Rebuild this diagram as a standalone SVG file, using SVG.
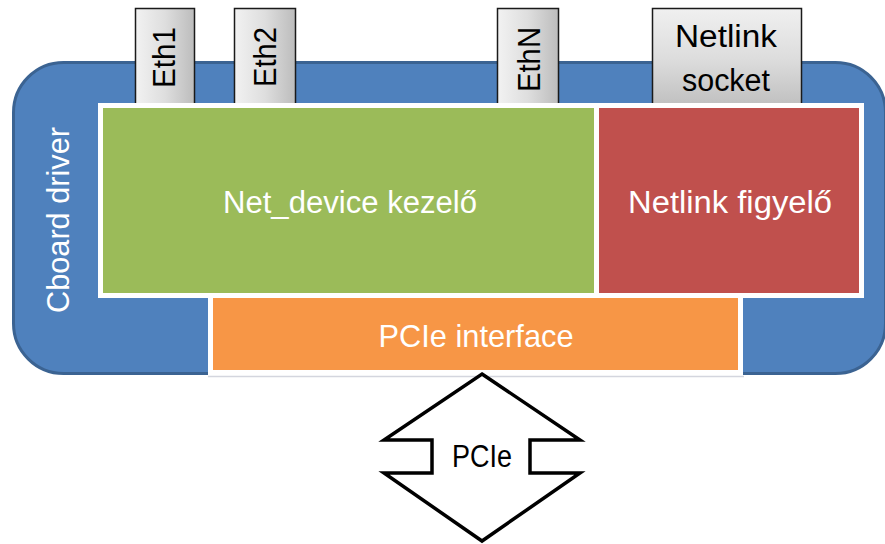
<svg xmlns="http://www.w3.org/2000/svg" width="885" height="544" viewBox="0 0 885 544">
  <defs>
    <linearGradient id="gTabH" x1="0" y1="0" x2="1" y2="0">
      <stop offset="0" stop-color="#f2f2f2"/>
      <stop offset="0.5" stop-color="#dedede"/>
      <stop offset="1" stop-color="#bcbcbc"/>
    </linearGradient>
    <linearGradient id="gTabV" x1="0" y1="0" x2="0" y2="1">
      <stop offset="0" stop-color="#f0f0f0"/>
      <stop offset="0.5" stop-color="#dddddd"/>
      <stop offset="1" stop-color="#bebebe"/>
    </linearGradient>
    <style>
      .tab { stroke:#1a1a1a; stroke-width:1.5; }
      .blk { stroke:#ffffff; stroke-width:5; }
      .wt { font-family:"Liberation Sans", Arial, sans-serif; fill:#ffffff; font-size:31px; }
      .bt { font-family:"Liberation Sans", Arial, sans-serif; fill:#000000; font-size:31px; }
    </style>
  </defs>

  <g id="cboard-driver">
    <rect x="13.5" y="62.5" width="872" height="311" rx="50" ry="50" fill="#4f81bd" stroke="#3b6392" stroke-width="3"/>
    <text class="wt" transform="translate(69,220) rotate(-90)" text-anchor="middle" textLength="186" lengthAdjust="spacingAndGlyphs">Cboard driver</text>
  </g>

  <g id="eth1">
    <rect class="tab" x="135.5" y="8.5" width="59" height="100" fill="url(#gTabH)"/>
    <text class="bt" transform="translate(175,57.5) rotate(-90)" text-anchor="middle" textLength="61" lengthAdjust="spacingAndGlyphs">Eth1</text>
  </g>
  <g id="eth2">
    <rect class="tab" x="234.5" y="8.5" width="61" height="100" fill="url(#gTabH)"/>
    <text class="bt" transform="translate(276,57) rotate(-90)" text-anchor="middle" textLength="60" lengthAdjust="spacingAndGlyphs">Eth2</text>
  </g>
  <g id="ethN">
    <rect class="tab" x="497.5" y="8.5" width="61" height="100" fill="url(#gTabH)"/>
    <text class="bt" transform="translate(540,59.5) rotate(-90)" text-anchor="middle" textLength="65" lengthAdjust="spacingAndGlyphs">EthN</text>
  </g>
  <g id="netlink-socket">
    <rect class="tab" x="652.5" y="8.5" width="149" height="100" fill="url(#gTabV)"/>
    <text class="bt" x="726" y="47" text-anchor="middle" textLength="102" lengthAdjust="spacingAndGlyphs">Netlink</text>
    <text class="bt" x="726" y="91" text-anchor="middle" textLength="88" lengthAdjust="spacingAndGlyphs">socket</text>
  </g>

  <g id="net-device-kezelo">
    <rect class="blk" x="100.5" y="105.5" width="496" height="190" fill="#9bbb59"/>
    <text class="wt" x="350" y="213" text-anchor="middle" textLength="254" lengthAdjust="spacingAndGlyphs">Net_device kezelő</text>
  </g>
  <g id="netlink-figyelo">
    <rect class="blk" x="596.5" y="105.5" width="265" height="190" fill="#c0504d"/>
    <text class="wt" x="730" y="213" text-anchor="middle" textLength="204" lengthAdjust="spacingAndGlyphs">Netlink figyelő</text>
  </g>
  <g id="pcie-interface">
    <line x1="208" y1="376.5" x2="744" y2="376.5" stroke="#d4d6de" stroke-width="1.5"/>
    <rect class="blk" x="210.5" y="295.5" width="530" height="77" fill="#f79646"/>
    <text class="wt" x="476" y="347" text-anchor="middle" textLength="195" lengthAdjust="spacingAndGlyphs" style="font-size:32px">PCIe interface</text>
  </g>

  <g id="connectors">
    <g id="pcie-link">
      <polygon points="482,374 580,440 530,440 530,473 580,473 482,541 384,473 432,473 432,440 384,440" fill="#ffffff" stroke="#000000" stroke-width="3.5" stroke-linejoin="miter"/>
      <text class="bt" x="482" y="467" text-anchor="middle" textLength="60" lengthAdjust="spacingAndGlyphs">PCIe</text>
    </g>
  </g>
</svg>
